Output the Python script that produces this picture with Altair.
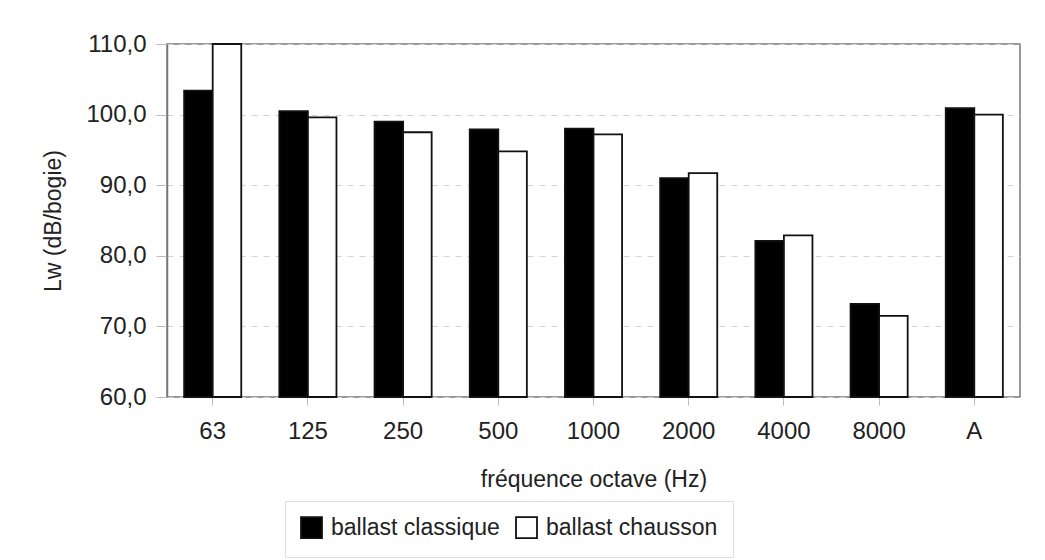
import altair as alt
import pandas as pd

categories = ["63", "125", "250", "500", "1000", "2000", "4000", "8000", "A"]
classique = [103.4, 100.5, 99.0, 97.9, 98.0, 91.0, 82.1, 73.2, 100.9]
chausson = [110.0, 99.6, 97.5, 94.8, 97.2, 91.7, 82.9, 71.5, 100.0]
series = ["ballast classique", "ballast chausson"]

rows = []
for c, a, b in zip(categories, classique, chausson):
    rows.append({"freq": c, "serie": series[0], "lw": a})
    rows.append({"freq": c, "serie": series[1], "lw": b})
df = pd.DataFrame(rows)

FONT = "Liberation Sans"

chart = alt.Chart(df).mark_bar(stroke="#111", strokeWidth=1.8).encode(
    x=alt.X("freq:N", sort=categories,
            scale=alt.Scale(paddingInner=0.4, paddingOuter=0.18),
            axis=alt.Axis(title="fréquence octave (Hz)", labelAngle=0,
                          domain=False, tickColor="#bbb", tickSize=8,
                          labelPadding=14, titlePadding=25,
                          labelFontSize=24, titleFontSize=23)),
    xOffset=alt.XOffset("serie:N", sort=series, scale=alt.Scale(paddingInner=0, paddingOuter=0)),
    y=alt.Y("lw:Q", scale=alt.Scale(domain=[60, 110], nice=False, clamp=True),
            axis=alt.Axis(title="Lw (dB/bogie)", values=[60, 70, 80, 90, 100, 110],
                          labelExpr="replace(format(datum.value, '.1f'), '.', ',')",
                          domainColor="#777", domainWidth=1.5,
                          tickColor="#bbb", tickSize=11, labelPadding=10,
                          gridColor="#d4d4d4", gridDash=[6, 6], gridWidth=1,
                          titlePadding=20, labelFontSize=24, titleFontSize=23)),
    color=alt.Color("serie:N", sort=series,
                    scale=alt.Scale(domain=series, range=["#000000", "#ffffff"]),
                    legend=alt.Legend(title=None, orient="none", direction="horizontal",
                                      legendX=118, legendY=457,
                                      symbolType="square", symbolSize=440,
                                      symbolStrokeColor="#111", symbolStrokeWidth=1.8,
                                      labelFontSize=23, labelFont=FONT, labelColor="#222",
                                      labelOffset=8, labelLimit=0,
                                      columnPadding=12, symbolOffset=0,
                                      padding=15, strokeColor="#ddd",
                                      fillColor="white")),
).properties(
    width=853, height=353,
    autosize=alt.AutoSizeParams(type="none"),
    padding={"left": 159, "top": 36, "right": 12, "bottom": 163},
).configure_view(
    stroke="#777", strokeWidth=1.5
).configure_axis(
    labelFont=FONT, titleFont=FONT, labelColor="#222", titleColor="#222",
    titleFontWeight="normal", grid=True
).configure_axisX(grid=False)

chart.save("out.html", embed_options={"renderer": "svg", "actions": False})
